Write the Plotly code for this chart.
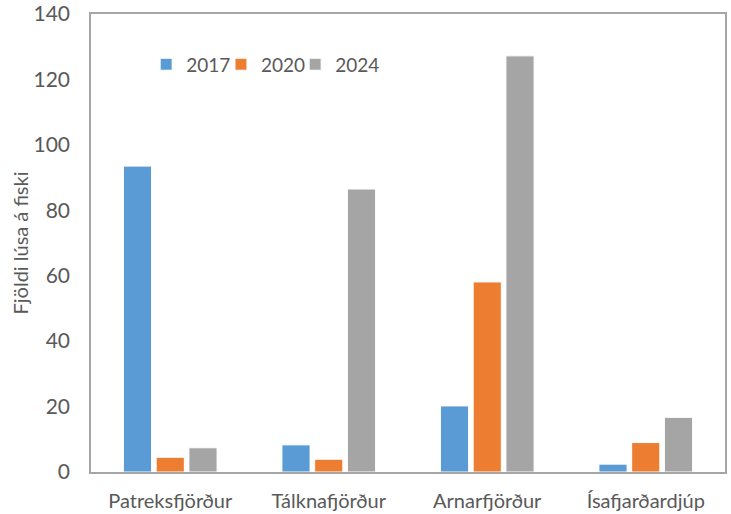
import plotly.graph_objects as go

# Lice per fish by fjord and year
fjords = ["Patreksfjörður", "Tálknafjörður", "Arnarfjörður", "Ísafjarðardjúp"]
years = ["2017", "2020", "2024"]
values_2017 = [93.5, 8.3, 20.2, 2.4]
values_2020 = [4.5, 3.9, 58.1, 9.0]
values_2024 = [7.4, 86.5, 127.2, 16.7]
colors = ["#5B9BD5", "#ED7D31", "#A5A5A5"]

font = "Lato, 'Open Sans', sans-serif"
legend_names = ["legend", "legend2", "legend3"]
legend_x = [0.087, 0.205, 0.322]

fig = go.Figure()
for year, vals, col, lg in zip(years, [values_2017, values_2020, values_2024], colors, legend_names):
    fig.add_trace(go.Bar(
        name=year, x=fjords, y=vals, legend=lg, showlegend=True,
        marker=dict(color=col, line=dict(color="white", width=1)),
    ))

# one legend per series so the entries sit as tightly as in the original
legends = {}
for lg, lx in zip(legend_names, legend_x):
    legends[lg] = dict(orientation="h", x=lx, y=0.89, xanchor="left", yanchor="middle",
                       font=dict(size=19, color="#595959"), itemwidth=30,
                       bgcolor="rgba(0,0,0,0)")

fig.update_layout(
    width=731, height=514,
    margin=dict(l=91, r=6, t=14, b=42),
    paper_bgcolor="white", plot_bgcolor="white",
    showlegend=True,
    barmode="group", bargap=0.38, bargroupgap=0.14,
    font=dict(family=font, size=20, color="#595959"),
    xaxis=dict(showline=True, linecolor="#A6A6A6", linewidth=1.5, mirror=True,
               ticks="", ticklabelstandoff=10, tickfont=dict(size=20),
               automargin=False),
    yaxis=dict(range=[0, 140], dtick=20, showgrid=False, zeroline=False,
               showline=True, linecolor="#A6A6A6", linewidth=1.5, mirror=True,
               ticks="", ticklabelstandoff=15, tickfont=dict(size=21),
               automargin=False,
               title=dict(text="Fjöldi lúsa á fiski", font=dict(size=20), standoff=0)),
    **legends,
)

# drop the default 8px body margin so the figure fills the window
fig.write_html("out.html", config={"displayModeBar": False},
               post_script="document.body.style.margin='0';")
